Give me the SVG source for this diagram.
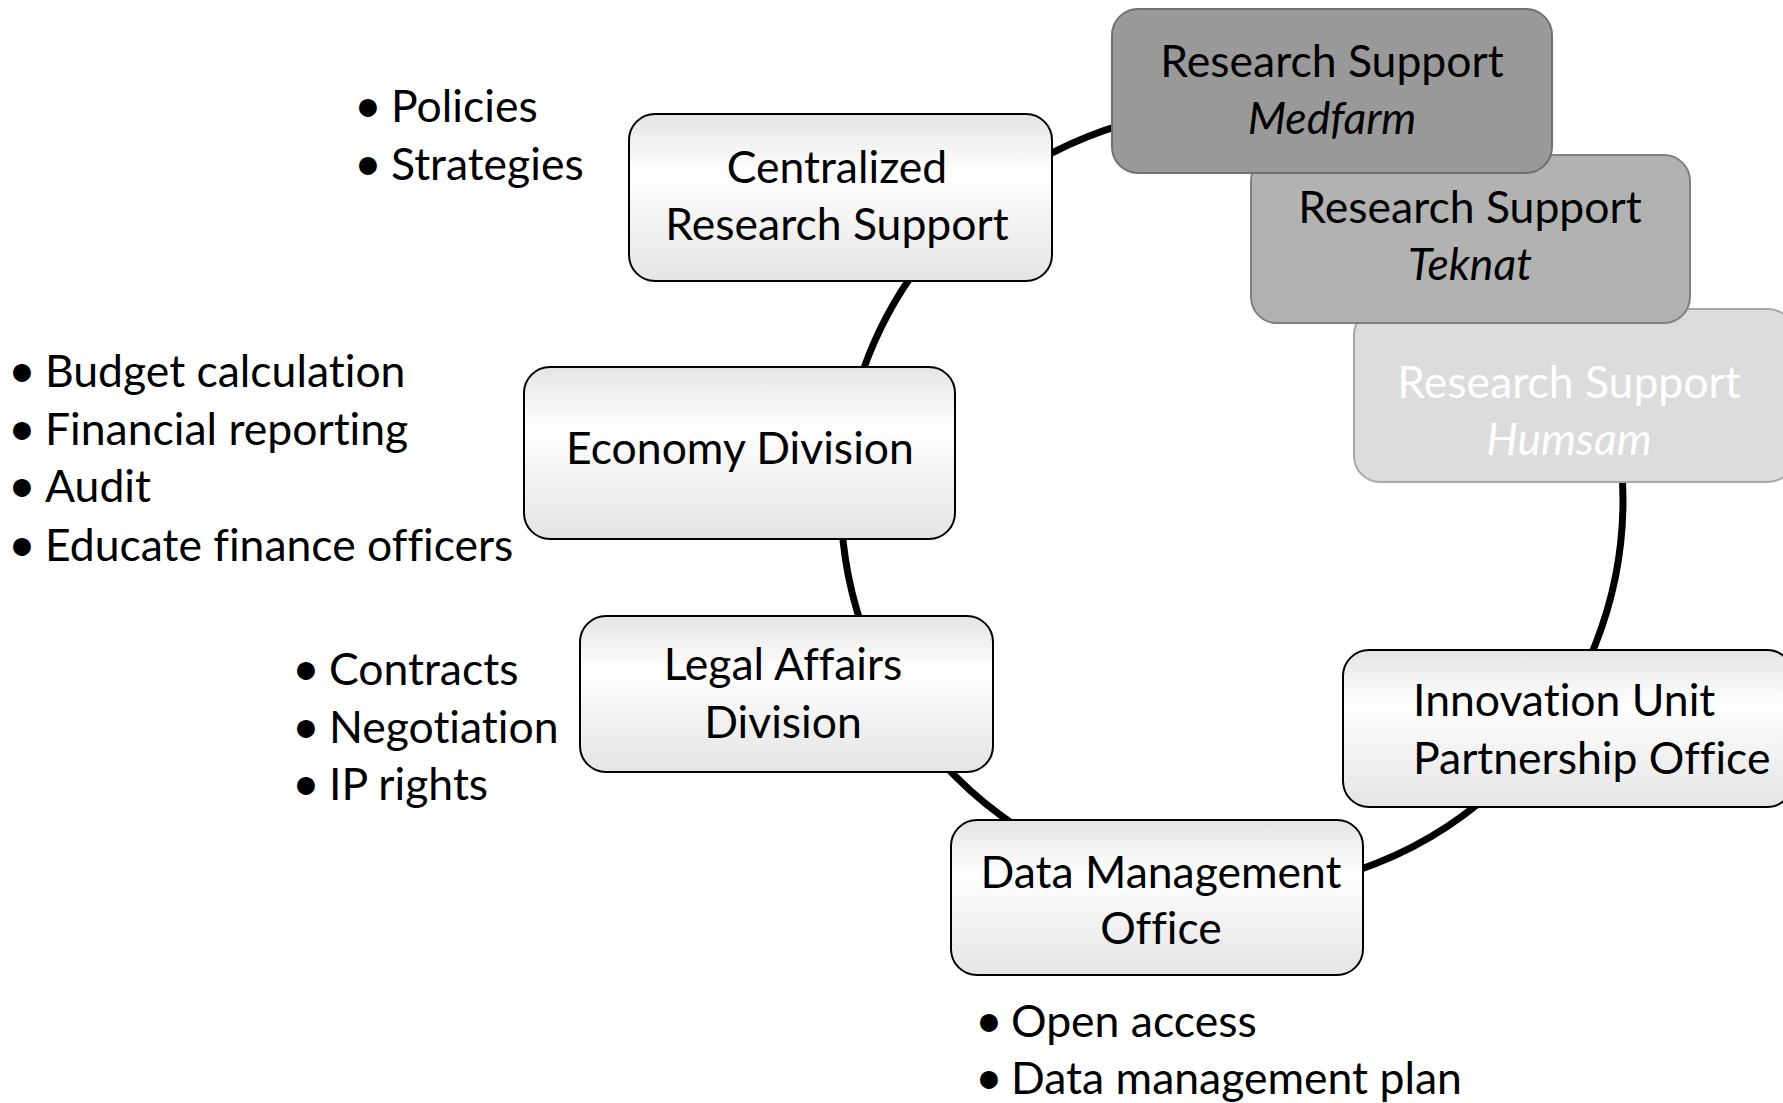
<svg xmlns="http://www.w3.org/2000/svg" width="1783" height="1103" viewBox="0 0 1783 1103">
<style>
text{font-family:Lato,"Liberation Sans",sans-serif;font-size:44.5px;fill:#000;font-variant-ligatures:none}
.c{text-anchor:middle}
.i{font-style:italic}
.b{font-size:48px}
.box{fill:url(#g);stroke:#000;stroke-width:2}
.ring{fill:none;stroke:#000;stroke-width:7}
</style>
<defs>
<linearGradient id="g" x1="0" y1="0" x2="0" y2="1">
<stop offset="0" stop-color="#e4e4e4"/>
<stop offset="0.35" stop-color="#ffffff"/>
<stop offset="1" stop-color="#e4e4e4"/>
</linearGradient>
</defs>
<rect width="1783" height="1103" fill="#fff"/>
<g id="connectors">
<circle class="ring" cx="1232" cy="500" r="391"/>
</g>
<g id="humsam">
<rect x="1354" y="309" width="440" height="173" rx="26" fill="#dcdcdc" stroke="#a8a8a8" stroke-width="2"/>
<text class="c" x="1569" y="398" style="fill:#fff">Research Support</text>
<text class="c i" x="1569" y="455" style="fill:#fff">Humsam</text>
</g>
<g id="teknat">
<rect x="1251" y="155" width="439" height="168" rx="26" fill="#b2b2b2" stroke="#808080" stroke-width="2"/>
<text class="c" x="1470" y="223">Research Support</text>
<text class="c i" x="1470" y="280">Teknat</text>
</g>
<g id="medfarm">
<rect x="1112" y="9" width="440" height="164" rx="26" fill="#999999" stroke="#707070" stroke-width="2"/>
<text class="c" x="1332" y="77">Research Support</text>
<text class="c i" x="1332" y="134">Medfarm</text>
</g>
<g id="centralized">
<rect class="box" x="629" y="114" width="423" height="167" rx="26"/>
<text class="c" x="837" y="183">Centralized</text>
<text class="c" x="837" y="240">Research Support</text>
</g>
<g id="economy">
<rect class="box" x="524" y="367" width="431" height="172" rx="26"/>
<text class="c" x="740" y="464">Economy Division</text>
</g>
<g id="legal">
<rect class="box" x="580" y="616" width="413" height="156" rx="26"/>
<text class="c" x="783" y="680">Legal Affairs</text>
<text class="c" x="783" y="738">Division</text>
</g>
<g id="datamgmt">
<rect class="box" x="951" y="820" width="412" height="155" rx="26"/>
<text class="c" x="1161" y="888">Data Management</text>
<text class="c" x="1161" y="944">Office</text>
</g>
<g id="innovation">
<rect class="box" x="1343" y="650" width="450" height="157" rx="26"/>
<text x="1413" y="716">Innovation Unit</text>
<text x="1413" y="774">Partnership Office</text>
</g>
<g id="list-centralized">
<text class="b" x="354" y="122">•</text><text x="391" y="122">Policies</text>
<text class="b" x="354" y="180">•</text><text x="391" y="180">Strategies</text>
</g>
<g id="list-economy">
<text class="b" x="8" y="387">•</text><text x="45" y="387">Budget calculation</text>
<text class="b" x="8" y="445">•</text><text x="45" y="445">Financial reporting</text>
<text class="b" x="8" y="502">•</text><text x="45" y="502">Audit</text>
<text class="b" x="8" y="561">•</text><text x="45" y="561">Educate finance officers</text>
</g>
<g id="list-legal">
<text class="b" x="292" y="685">•</text><text x="329" y="685">Contracts</text>
<text class="b" x="292" y="743">•</text><text x="329" y="743">Negotiation</text>
<text class="b" x="292" y="800">•</text><text x="329" y="800">IP rights</text>
</g>
<g id="list-data">
<text class="b" x="975" y="1037">•</text><text x="1011" y="1037">Open access</text>
<text class="b" x="975" y="1094">•</text><text x="1011" y="1094">Data management plan</text>
</g>
</svg>
